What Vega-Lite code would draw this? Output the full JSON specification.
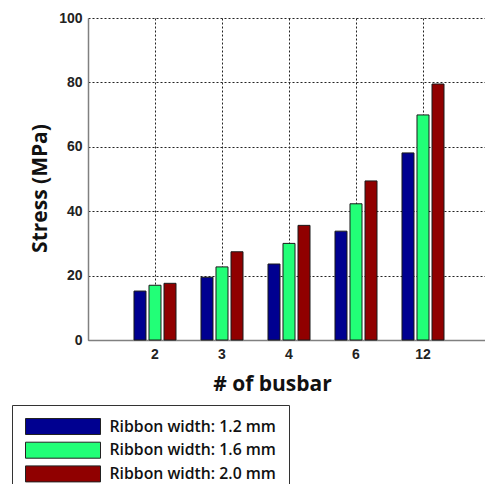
{
  "$schema": "https://vega.github.io/schema/vega-lite/v6.json",
  "width": 402,
  "height": 322,
  "autosize": {"type": "none"},
  "padding": {"left": 88, "top": 18, "right": 0, "bottom": 144},
  "background": "white",
  "data": {
    "values": [
      {"busbar": "2", "ribbon": "Ribbon width: 1.2 mm", "stress": 15.2},
      {"busbar": "2", "ribbon": "Ribbon width: 1.6 mm", "stress": 17.0},
      {"busbar": "2", "ribbon": "Ribbon width: 2.0 mm", "stress": 17.6},
      {"busbar": "3", "ribbon": "Ribbon width: 1.2 mm", "stress": 19.5},
      {"busbar": "3", "ribbon": "Ribbon width: 1.6 mm", "stress": 22.7},
      {"busbar": "3", "ribbon": "Ribbon width: 2.0 mm", "stress": 27.4},
      {"busbar": "4", "ribbon": "Ribbon width: 1.2 mm", "stress": 23.6},
      {"busbar": "4", "ribbon": "Ribbon width: 1.6 mm", "stress": 30.0},
      {"busbar": "4", "ribbon": "Ribbon width: 2.0 mm", "stress": 35.6},
      {"busbar": "6", "ribbon": "Ribbon width: 1.2 mm", "stress": 33.8},
      {"busbar": "6", "ribbon": "Ribbon width: 1.6 mm", "stress": 42.3},
      {"busbar": "6", "ribbon": "Ribbon width: 2.0 mm", "stress": 49.4},
      {"busbar": "12", "ribbon": "Ribbon width: 1.2 mm", "stress": 58.1},
      {"busbar": "12", "ribbon": "Ribbon width: 1.6 mm", "stress": 69.9},
      {"busbar": "12", "ribbon": "Ribbon width: 2.0 mm", "stress": 79.5}
    ]
  },
  "mark": {"type": "bar", "stroke": "#1a1a1a", "strokeWidth": 1},
  "encoding": {
    "x": {
      "field": "busbar",
      "type": "ordinal",
      "sort": ["2", "3", "4", "6", "12"],
      "scale": {"paddingInner": 0, "paddingOuter": 0.5},
      "axis": {
        "title": "# of busbar",
        "titleFont": "Open Sans",
        "titleFontSize": 21,
        "titleFontWeight": "bold",
        "titleColor": "#111",
        "titleX": 184,
        "titlePadding": 12,
        "labelFont": "Liberation Sans",
        "labelFontSize": 14,
        "labelFontWeight": "bold",
        "labelColor": "#222",
        "labelAngle": 0,
        "labelPadding": 7,
        "ticks": false,
        "domainColor": "#808080",
        "domainWidth": 1.5,
        "grid": true,
        "gridColor": "#222",
        "gridDash": [2, 2],
        "gridWidth": 1
      }
    },
    "xOffset": {
      "field": "ribbon",
      "type": "nominal",
      "scale": {"paddingInner": 0.2, "paddingOuter": 0.833}
    },
    "y": {
      "field": "stress",
      "type": "quantitative",
      "scale": {"domain": [0, 100], "nice": false},
      "axis": {
        "title": "Stress (MPa)",
        "titleFont": "Open Sans",
        "titleFontSize": 21,
        "titleFontWeight": "bold",
        "titleColor": "#111",
        "titleY": 170,
        "titlePadding": 8,
        "values": [0, 20, 40, 60, 80, 100],
        "labelFont": "Liberation Sans",
        "labelFontSize": 14,
        "labelFontWeight": "bold",
        "labelColor": "#222",
        "labelPadding": 6,
        "ticks": false,
        "domainColor": "#808080",
        "domainWidth": 1.5,
        "grid": true,
        "gridColor": "#222",
        "gridDash": [2, 2],
        "gridWidth": 1
      }
    },
    "color": {
      "field": "ribbon",
      "type": "nominal",
      "scale": {
        "domain": ["Ribbon width: 1.2 mm", "Ribbon width: 1.6 mm", "Ribbon width: 2.0 mm"],
        "range": ["#000090", "#22FF77", "#900000"]
      },
      "legend": {
        "title": null,
        "orient": "none",
        "legendX": -76,
        "legendY": 387,
        "direction": "vertical",
        "strokeColor": "#333",
        "fillColor": "white",
        "padding": 13,
        "symbolType": "M-1,-1H8.375V1H-1Z",
        "symbolSize": 256,
        "symbolStrokeColor": "#222",
        "symbolStrokeWidth": 1,
        "symbolOpacity": 1,
        "labelFont": "Open Sans",
        "labelFontSize": 15.8,
        "labelFontWeight": 600,
        "labelColor": "#111",
        "labelOffset": 67.5,
        "labelLimit": 400,
        "labelExpr": "datum.label + '\u00a0\u00a0\u00a0\u00a0\u00a0'",
        "rowPadding": 2.7
      }
    }
  },
  "config": {"view": {"stroke": null}}
}
